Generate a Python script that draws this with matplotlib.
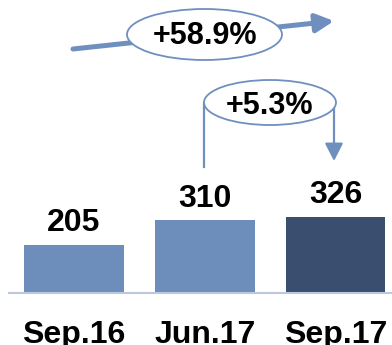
import matplotlib
matplotlib.use('Agg')
import matplotlib.pyplot as plt
from matplotlib.patches import Ellipse, FancyArrowPatch

plt.rcParams['font.family'] = ['Liberation Sans', 'DejaVu Sans']
plt.rcParams['font.weight'] = 'bold'

# quarterly figures
periods = ['Sep.16', 'Jun.17', 'Sep.17']
values = [205, 310, 326]
growth_yoy = '+58.9%'
growth_qoq = '+5.3%'

light = '#6D8DBA'
dark = '#3A4E70'
accent = '#6F8FBF'
bar_colors = [light, light, dark]

fig = plt.figure(figsize=(3.92, 3.45), dpi=100)

# bar axes: baseline 52px above the bottom edge
ax = fig.add_axes([8.5 / 392, 52.3 / 345, 1 - 8.5 / 392, 292.7 / 345])
x = range(len(values))
ax.bar(x, values, width=0.76, color=bar_colors, zorder=2)
ax.set_xlim(-0.5, 2.43)
ax.set_ylim(0, 1256)
for xi, v in zip(x, values):
    ax.annotate(str(v), (xi, v), xytext=(0, 10), textcoords='offset points',
                ha='center', va='baseline', fontsize=23, fontweight='bold')
ax.set_xticks(list(x))
ax.set_xticklabels(periods, fontsize=23, fontweight='bold')
ax.tick_params(axis='x', length=0, pad=20)
ax.set_yticks([])
for side in ['top', 'right', 'left']:
    ax.spines[side].set_visible(False)
ax.spines['bottom'].set_color('#BCC8DE')
ax.spines['bottom'].set_linewidth(1.5)
ax.patch.set_alpha(0)

# overlay in pixel units for the growth callouts
ov = fig.add_axes([0, 0, 1, 1])
ov.set_xlim(0, 392)
ov.set_ylim(345, 0)
ov.axis('off')
ov.patch.set_alpha(0)

head = '-|>,head_length=4.3,head_width=2.2'

# year-on-year arrow
ov.add_patch(FancyArrowPatch((73, 49), (334, 21), arrowstyle=head,
                             mutation_scale=2.5, lw=3.6, color=accent,
                             shrinkA=0, shrinkB=0))
ov.add_patch(Ellipse((204.5, 34.5), 155, 51, facecolor='white',
                     edgecolor=accent, lw=1.3, zorder=3))
ov.text(205, 36, growth_yoy, ha='center', va='center', fontsize=22,
        fontweight='bold', zorder=4)

# quarter-on-quarter bracket
ov.plot([204, 204], [167, 103], color=accent, lw=1.6)
ov.add_patch(FancyArrowPatch((334, 103), (334, 161), arrowstyle=head,
                             mutation_scale=2.5, lw=1.6, color=accent,
                             shrinkA=0, shrinkB=0))
ov.add_patch(Ellipse((270, 102.5), 132, 45, facecolor='white',
                     edgecolor=accent, lw=1.3, zorder=3))
ov.text(270, 106, growth_qoq, ha='center', va='center', fontsize=22,
        fontweight='bold', zorder=4)

fig.savefig('out.png', dpi=100)
